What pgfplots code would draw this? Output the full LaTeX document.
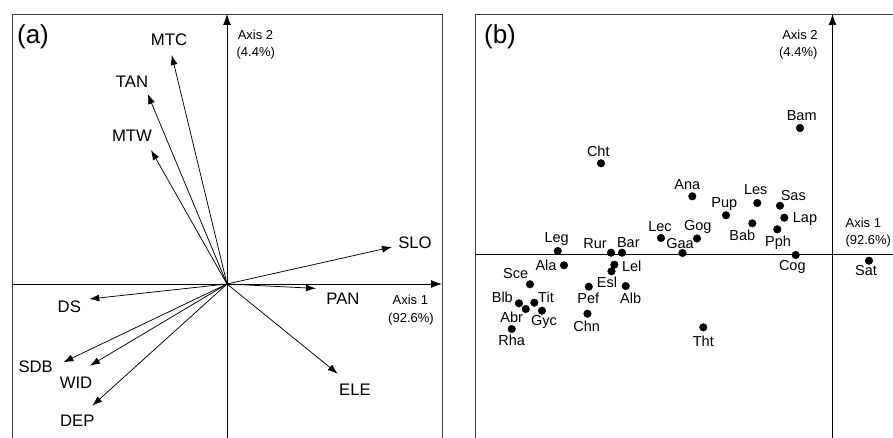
\documentclass[border=0pt]{standalone}
\usepackage{pgfplots}
\pgfplotsset{compat=1.18}
\usepackage{pgfplotstable}
\usepackage{fontspec}
\setmainfont{Liberation Sans}
\usetikzlibrary{arrows.meta}

% panel (b): site scores (pixel-like units, origin at the axis crossing)
\pgfplotstableread{
name x y
Bam -32.5 126
Cht -231.5 90.7
Ana -140.2 57.7
Pup -106.5 38.7
Les -75.2 51
Sas -52.5 48.3
Lap -48.2 36.3
Bab -80.2 30.7
Pph -55.2 24.7
Cog -36.8 -1
Sat 36.5 -6.7
Lec -171.5 16
Gog -135.5 15.5
Gaa -150 1
Rur -221.5 1.3
Bar -210.5 1.3
Leg -274.8 3
Ala -268.5 -11.3
Lel -218.2 -10.7
Esl -221 -17.3
Alb -206.8 -32
Pef -243.7 -32.7
Chn -245 -59.7
Tht -129.2 -73.3
Sce -302.5 -30.3
Blb -313.5 -49.3
Abr -306.8 -55
Tit -298.2 -48.7
Gyc -290.5 -56.7
Rha -320.8 -75
}\sitetable

\tikzset{
  vec/.style={black, line width=0.75pt, no markers, -{Latex[length=10pt,width=7pt]}},
  axarrow/.style={black, line width=0.9pt, -{Latex[length=11pt,width=8pt]}},
  labA/.style={inner sep=0pt, font=\fontsize{16.7}{19}\selectfont},
  labB/.style={inner sep=0pt, font=\fontsize{14.5}{17}\selectfont},
  axlab/.style={inner sep=0pt, font=\fontsize{13}{15}\selectfont},
}

\begin{document}
\begin{tikzpicture}
\useasboundingbox (0,0) rectangle (893pt,437pt);
\clip (0,0) rectangle (893pt,437pt);

% ---------------- panel (a) ----------------
\begin{axis}[
  at={(12pt,-7pt)}, anchor=south west,
  x=1pt, y=1pt,
  xmin=-215, xmax=215, ymin=-160, ymax=270,
  xtick=\empty, ytick=\empty,
  clip=false,
  axis line style={draw=black!75, line width=0.9pt},
]
\draw[axarrow] (axis cs:-215,0) -- (axis cs:215,0);
\draw[axarrow] (axis cs:0,-160) -- (axis cs:0,270);

\addplot[vec] coordinates {(0,0) (-55.3,229)};
\addplot[vec] coordinates {(0,0) (-79.3,190)};
\addplot[vec] coordinates {(0,0) (-76,134)};
\addplot[vec] coordinates {(0,0) (165,37)};
\addplot[vec] coordinates {(0,0) (89,-4.4)};
\addplot[vec] coordinates {(0,0) (-137.7,-15)};
\addplot[vec] coordinates {(0,0) (-163.7,-78.3)};
\addplot[vec] coordinates {(0,0) (-137,-81.7)};
\addplot[vec] coordinates {(0,0) (-134.7,-121.7)};
\addplot[vec] coordinates {(0,0) (110.7,-89.7)};

\node[labA] at (axis cs:-58,244) {MTC};
\node[labA] at (axis cs:-95,202) {TAN};
\node[labA] at (axis cs:-95,148) {MTW};
\node[labA] at (axis cs:188,41.6) {SLO};
\node[labA] at (axis cs:116,-15) {PAN};
\node[labA] at (axis cs:-157.7,-22.4) {DS};
\node[labA] at (axis cs:-191.3,-82.4) {SDB};
\node[labA] at (axis cs:-151,-99) {WID};
\node[labA] at (axis cs:-149.7,-136.4) {DEP};
\node[labA] at (axis cs:128,-105.7) {ELE};

\node[inner sep=0pt, font=\fontsize{26}{30}\selectfont] at (axis cs:-194,247.3) {(a)};
\node[axlab] at (axis cs:28.5,249) {Axis 2};
\node[axlab] at (axis cs:28.8,230.7) {(4.4\%)};
\node[axlab] at (axis cs:183.3,-16) {Axis 1};
\node[axlab] at (axis cs:184,-35.3) {(92.6\%)};
\end{axis}

% ---------------- panel (b) ----------------
\begin{axis}[
  at={(475pt,-7pt)}, anchor=south west,
  x=1pt, y=1pt,
  xmin=-357.5, xmax=80, ymin=-190, ymax=240,
  xtick=\empty, ytick=\empty,
  clip=false,
  axis line style={draw=black!75, line width=0.9pt},
]
\draw[axarrow] (axis cs:-357.5,0) -- (axis cs:80,0);
\draw[axarrow] (axis cs:0,-190) -- (axis cs:0,240);

\addplot[only marks, mark=*, mark size=3.8pt, black] table[x=x,y=y] {\sitetable};

\node[labB] at (axis cs:-30.8,138.3) {Bam};
\node[labB] at (axis cs:-234.2,103) {Cht};
\node[labB] at (axis cs:-145.2,69) {Ana};
\node[labB] at (axis cs:-108.2,50) {Pup};
\node[labB] at (axis cs:-76.8,64) {Les};
\node[labB] at (axis cs:-39.2,58) {Sas};
\node[labB] at (axis cs:-27.5,35) {Lap};
\node[labB] at (axis cs:-90.2,18.3) {Bab};
\node[labB] at (axis cs:-54.5,11.7) {Pph};
\node[labB] at (axis cs:-40.2,-13.3) {Cog};
\node[labB] at (axis cs:33.5,-17) {Sat};
\node[labB] at (axis cs:-172.5,27.3) {Lec};
\node[labB] at (axis cs:-134.8,26.7) {Gog};
\node[labB] at (axis cs:-152.5,10.7) {Gaa};
\node[labB] at (axis cs:-237.5,10.7) {Rur};
\node[labB] at (axis cs:-204.2,11.7) {Bar};
\node[labB] at (axis cs:-275.8,14.7) {Leg};
\node[labB] at (axis cs:-286.5,-11.7) {Ala};
\node[labB] at (axis cs:-200.8,-12.7) {Lel};
\node[labB] at (axis cs:-225.5,-28) {Esl};
\node[labB] at (axis cs:-201.8,-44.3) {Alb};
\node[labB] at (axis cs:-244.2,-44.3) {Pef};
\node[labB] at (axis cs:-245.8,-72.7) {Chn};
\node[labB] at (axis cs:-129.2,-87.7) {Tht};
\node[labB] at (axis cs:-316.8,-20) {Sce};
\node[labB] at (axis cs:-330.2,-43.3) {Blb};
\node[labB] at (axis cs:-286.5,-43.3) {Tit};
\node[labB] at (axis cs:-320.8,-63.3) {Abr};
\node[labB] at (axis cs:-288.5,-67.7) {Gyc};
\node[labB] at (axis cs:-320.8,-86.7) {Rha};

\node[inner sep=0pt, font=\fontsize{26}{30}\selectfont] at (axis cs:-332.5,217.3) {(b)};
\node[axlab] at (axis cs:-32.5,219) {Axis 2};
\node[axlab] at (axis cs:-34.2,200.7) {(4.4\%)};
\node[axlab] at (axis cs:30.8,30.7) {Axis 1};
\node[axlab] at (axis cs:35.8,13) {(92.6\%)};
\end{axis}
\end{tikzpicture}
\end{document}
